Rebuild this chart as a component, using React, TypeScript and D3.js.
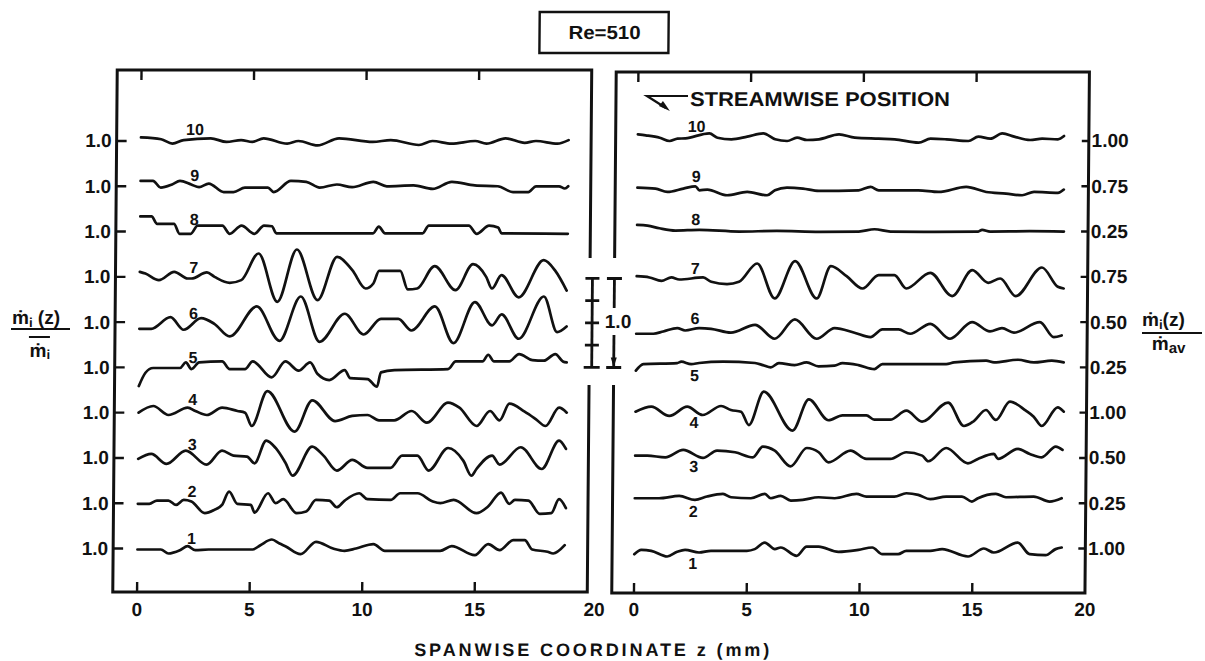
import React from 'react';
import * as d3 from 'd3';

type Pt = [number, number]; // [z (mm), mdot_i(z) / mean]

// ---- left panel: profiles normalised by the local mean ṁ_i ----
const left10: Pt[] = [[0,1.04],[0.9,1.02],[1.4,0.97],[1.9,1.01],[3.1,1.03],[3.8,0.99],[4.45,1.01],[4.95,0.99],[5.45,1.03],[6.5,0.97],[7.0,1.0],[7.85,0.95],[8.8,1.03],[10.3,0.99],[11.1,1.01],[12.35,0.955],[12.95,1.0],[13.8,0.97],[14.85,1.0],[15.35,0.97],[16.2,1.03],[17.05,0.98],[17.55,1.0],[18.5,0.97],[19.0,1.01]];
const left9: Pt[] = [[0,1.06],[0.55,1.06],[0.9,0.985],[1.4,1.02],[1.75,1.06],[2.25,1.02],[2.6,0.99],[3.03,1.03],[3.7,0.935],[4.13,0.935],[4.64,0.985],[5.66,0.985],[5.92,0.935],[6.68,1.06],[7.36,1.05],[7.96,0.985],[8.72,1.02],[9.4,0.99],[10.34,1.05],[10.94,1.0],[12.13,1.01],[12.98,0.97],[13.83,1.05],[14.85,1.01],[15.87,1.0],[16.55,0.935],[17.23,0.935],[17.57,1.0],[18.59,1.0],[18.85,0.975],[19.0,1.0]];
const left8: Pt[] = [[0,1.17],[0.5,1.17],[0.75,1.086],[1.5,1.086],[1.75,0.975],[2.25,0.975],[2.55,1.067],[3.65,1.067],[3.98,0.975],[4.5,1.067],[5.08,0.975],[5.5,1.067],[5.85,1.06],[6.05,0.98],[10.35,0.98],[10.6,1.056],[10.88,0.98],[12.55,0.98],[12.82,1.067],[14.6,1.067],[14.95,0.975],[15.5,1.067],[15.9,1.045],[16.06,0.98],[19,0.975]];
const left7: Pt[] = [[0,1.056],[0.25,1.037],[0.85,0.963],[1.53,1.056],[2.13,0.981],[2.3,0.981],[2.98,1.049],[3.32,1.0],[4.0,0.933],[4.51,0.963],[5.27,1.262],[6.12,0.719],[6.97,1.307],[7.91,0.738],[8.76,1.225],[9.44,1.075],[10.04,0.869],[10.38,0.925],[10.63,1.067],[11.57,1.067],[11.91,0.858],[12.33,0.869],[13.1,1.12],[14.03,0.85],[14.8,1.142],[15.39,1.0],[15.65,0.869],[16.07,1.019],[16.84,0.77],[17.94,1.187],[18.46,1.067],[18.97,0.846]];
const left6: Pt[] = [[0,0.925],[0.53,0.925],[1.38,1.056],[1.97,0.914],[2.74,1.045],[3.33,0.981],[4.02,0.839],[5.21,1.176],[6.23,0.79],[7.16,1.288],[8.01,0.779],[9.12,1.094],[9.97,0.861],[10.73,1.037],[11.5,1.037],[12.09,0.906],[13.12,1.176],[13.96,0.764],[14.9,1.225],[15.67,0.963],[16.09,1.086],[16.86,0.813],[17.96,1.288],[18.56,0.888],[18.98,0.951]];
const left5: Pt[] = [[0,0.79],[0.29,0.94],[0.63,0.993],[1.82,0.993],[2.08,1.056],[2.33,0.981],[2.67,1.056],[3.69,1.067],[4.03,0.981],[4.71,0.981],[5.05,1.067],[5.9,0.888],[6.5,1.067],[7.09,0.963],[7.6,1.056],[7.94,0.925],[8.46,0.858],[9.14,0.97],[9.39,0.88],[10.16,0.869],[10.58,0.783],[10.75,0.944],[11.35,0.97],[13.73,0.981],[14.07,1.067],[15.26,1.067],[15.51,1.142],[15.77,1.067],[16.45,1.067],[16.88,1.15],[17.47,1.082],[17.98,1.075],[18.49,1.15],[18.83,1.067],[19.0,1.056]];
const left4: Pt[] = [[0,1.0],[0.65,1.075],[1.33,0.974],[2.18,1.056],[2.52,1.019],[3.03,0.974],[3.71,1.056],[4.39,1.019],[4.73,1.0],[5.03,0.85],[5.71,1.243],[6.94,0.787],[7.71,1.139],[8.73,0.906],[9.49,0.963],[10.17,0.974],[10.68,0.914],[11.36,0.914],[12.13,1.019],[12.81,0.888],[13.74,1.112],[14.25,1.056],[15.02,0.85],[15.61,1.019],[16.04,0.914],[16.47,1.101],[17.15,1.011],[17.66,0.925],[18.08,0.85],[18.68,1.056],[19.02,1.0]];
const left3: Pt[] = [[0,0.989],[0.58,1.045],[1.26,0.933],[2.11,1.082],[3.04,0.925],[3.72,1.082],[4.23,1.026],[4.83,1.015],[5.17,0.94],[5.68,1.195],[6.1,1.112],[6.53,0.951],[6.87,0.801],[7.72,1.127],[8.23,1.026],[8.83,0.858],[9.51,0.978],[10.19,0.888],[11.21,0.888],[11.72,1.026],[12.4,1.026],[12.91,0.858],[13.76,1.112],[14.44,0.97],[14.81,0.801],[15.03,0.876],[15.72,1.026],[16.06,0.925],[16.99,1.12],[17.93,0.876],[18.69,1.195],[19.0,1.101]];
const left2: Pt[] = [[0,0.993],[0.51,0.993],[0.85,1.03],[1.36,1.03],[1.7,0.981],[2.04,1.037],[2.38,1.019],[2.98,0.888],[3.4,0.925],[3.74,0.981],[4.05,1.131],[4.42,0.993],[5.02,0.981],[5.19,0.895],[5.78,1.112],[6.12,1.0],[6.46,1.045],[7.06,0.888],[7.48,0.906],[7.91,1.037],[8.5,1.03],[8.84,0.955],[9.19,1.03],[9.83,1.112],[10.2,1.045],[11.23,1.037],[11.65,1.112],[12.42,1.112],[13.1,1.019],[13.44,1.0],[14.03,1.037],[15.05,0.888],[15.56,0.963],[16.13,1.12],[16.5,0.993],[16.75,1.037],[17.35,1.03],[17.86,0.88],[18.37,0.888],[18.71,1.045],[19.02,0.944]];
const left1: Pt[] = [[0,0.989],[1.04,0.989],[1.38,0.944],[1.89,0.981],[2.23,1.026],[2.57,0.981],[3.16,0.989],[5.12,0.989],[5.46,1.037],[5.97,1.101],[6.31,1.056],[6.57,1.026],[7.25,0.936],[7.93,1.075],[8.69,1.0],[9.2,0.974],[9.71,1.0],[10.48,1.049],[10.99,0.974],[13.45,0.974],[13.96,1.026],[14.99,0.925],[15.58,1.049],[16.09,0.981],[16.69,1.094],[17.2,1.094],[17.54,0.989],[18.22,0.963],[18.47,0.944],[18.98,1.037]];

// ---- right panel: profiles normalised by the overall average ṁ_av ----
const right10: Pt[] = [[0,1.075],[0.35,1.064],[0.97,1.037],[1.41,1.0],[1.76,1.026],[2.11,1.03],[3.17,1.086],[3.53,1.037],[4.15,1.019],[4.85,1.049],[5.56,1.086],[6.09,1.019],[6.62,1.0],[7.06,1.037],[7.5,1.011],[8.03,1.019],[8.92,1.075],[9.62,1.037],[10.68,1.026],[11.39,1.019],[12.45,0.981],[12.98,1.026],[13.69,1.019],[14.66,1.0],[15.1,1.049],[15.63,1.026],[16.16,1.086],[16.69,1.049],[17.4,1.011],[17.93,1.026],[18.63,1.019],[18.9,1.056]];
const right9: Pt[] = [[0,0.985],[0.8,0.974],[1.33,0.936],[2.04,0.974],[2.57,1.0],[2.75,0.955],[3.1,0.963],[3.98,0.899],[4.87,0.936],[5.75,0.899],[6.1,0.955],[6.63,0.985],[7.34,0.974],[8.05,0.948],[9.81,0.955],[10.34,0.993],[10.7,0.955],[12.46,0.955],[13.35,0.936],[14.58,0.993],[15.47,0.936],[16.35,0.918],[17.06,0.899],[17.59,0.936],[18.65,0.925],[18.91,0.963]];
const right8: Pt[] = [[0,1.075],[0.46,1.067],[0.99,1.037],[1.7,1.011],[2.76,1.019],[4.53,1.0],[6.2,1.007],[8.1,0.996],[9.83,1.0],[10.53,1.026],[11.24,1.0],[13.2,0.996],[15.13,1.0],[15.3,1.019],[15.66,1.0],[17.4,1.004],[18.93,1.0]];
const right7: Pt[] = [[0,1.007],[0.57,0.993],[1.1,0.955],[1.54,0.993],[1.89,0.97],[2.95,0.993],[3.31,0.944],[4.01,0.918],[4.54,0.944],[5.34,1.15],[6.13,0.757],[7.02,1.176],[7.99,0.757],[8.61,1.12],[9.31,1.007],[10.02,0.869],[10.73,1.019],[11.43,1.019],[11.96,0.869],[13.02,1.045],[14.0,0.783],[14.88,1.075],[15.59,0.933],[16.12,0.981],[16.82,0.783],[17.97,1.105],[18.68,0.888],[18.94,0.869]];
const right6: Pt[] = [[0,0.869],[0.76,0.869],[1.2,0.895],[1.82,0.933],[2.17,0.906],[2.79,0.933],[3.32,0.925],[4.2,0.881],[5.27,0.97],[6.15,0.813],[7.03,1.03],[8.0,0.813],[8.8,0.933],[9.68,0.881],[10.39,0.831],[10.92,0.918],[11.63,0.918],[12.15,0.869],[13.04,0.981],[13.92,0.813],[14.89,1.0],[15.69,0.895],[16.22,0.933],[16.75,0.881],[17.9,1.0],[18.52,0.831],[18.87,0.85]];
const right5: Pt[] = [[0,0.963],[0.33,1.037],[1.83,1.049],[2.01,1.064],[2.45,1.037],[2.8,1.049],[3.86,1.064],[5.28,1.049],[5.63,1.026],[5.98,1.0],[6.34,1.049],[7.04,1.026],[7.57,1.056],[8.1,1.011],[8.81,1.019],[9.16,1.049],[9.87,1.026],[10.58,0.981],[10.93,1.037],[13.76,1.037],[14.11,1.056],[15.53,1.075],[15.88,1.056],[16.94,1.086],[17.65,1.056],[18.44,1.075],[18.97,1.056]];
const right4: Pt[] = [[0,1.011],[0.7,1.067],[1.5,0.963],[2.29,1.067],[2.98,0.974],[3.79,1.075],[4.23,1.03],[4.68,1.011],[5.03,0.861],[5.68,1.236],[6.97,0.798],[7.68,1.15],[8.56,0.915],[9.18,0.97],[10.24,0.97],[10.59,0.921],[11.3,0.921],[12.01,1.022],[12.71,0.899],[13.86,1.112],[14.57,0.85],[15.01,0.906],[15.54,1.03],[15.98,0.918],[16.6,1.124],[17.31,1.022],[17.66,0.955],[18.02,0.85],[18.72,1.06],[18.99,1.011]];
const right3: Pt[] = [[0,1.026],[0.54,1.026],[1.34,1.007],[2.13,1.09],[3.01,1.0],[3.63,1.082],[4.43,1.064],[5.22,1.007],[5.66,1.127],[6.19,1.082],[6.9,0.906],[7.61,1.112],[8.14,1.064],[8.58,0.951],[9.55,1.082],[10.26,0.989],[11.32,0.989],[12.02,1.064],[12.73,1.026],[13.0,0.963],[13.79,1.112],[14.76,0.94],[15.2,0.989],[15.91,1.045],[16.09,0.989],[16.97,1.101],[17.5,1.045],[18.03,1.007],[18.65,1.127],[18.95,1.09]];
const right2: Pt[] = [[0,1.056],[1.08,1.056],[1.97,1.082],[2.67,1.037],[3.2,1.075],[3.91,1.105],[4.27,1.067],[5.15,1.056],[5.77,1.105],[6.03,1.056],[6.47,1.082],[6.92,1.03],[7.45,1.037],[8.15,1.067],[8.86,1.056],[9.83,1.105],[10.27,1.075],[11.51,1.075],[12.04,1.112],[12.57,1.094],[13.1,1.045],[13.81,1.075],[14.51,1.075],[14.95,1.019],[15.22,1.056],[16.01,1.105],[16.46,1.067],[17.69,1.075],[18.4,1.019],[18.93,1.056]];
const right1: Pt[] = [[0,0.936],[0.31,0.985],[0.75,0.974],[1.46,0.91],[1.9,0.963],[2.25,0.985],[2.87,0.955],[3.4,0.974],[4.99,0.974],[5.34,0.993],[5.78,1.067],[6.23,0.993],[6.49,1.011],[7.2,0.918],[7.64,1.022],[8.17,1.022],[9.05,0.963],[9.94,0.985],[10.55,1.011],[11.0,0.936],[11.7,0.936],[12.06,0.974],[13.12,0.974],[13.65,0.993],[14.8,0.91],[15.5,1.0],[15.94,0.955],[17.0,1.067],[17.53,0.936],[18.24,0.925],[18.68,0.993],[18.95,1.011]];

const leftTraces = [left1, left2, left3, left4, left5, left6, left7, left8, left9, left10];
const rightTraces = [right1, right2, right3, right4, right5, right6, right7, right8, right9, right10];

// streamwise position numbers, 1 (bottom) to 10 (top)
const positions = [1, 2, 3, 4, 5, 6, 7, 8, 9, 10];
const leftTickLabels = ['1.0', '1.0', '1.0', '1.0', '1.0', '1.0', '1.0', '1.0', '1.0', '1.0'];
const rightTickLabels = ['1.00', '0.25', '0.50', '1.00', '0.25', '0.50', '0.75', '0.25', '0.75', '1.00'];
// right-panel numbers sit under their curve for the lower five positions
const rightLabelBelow = [true, true, true, true, true, false, false, false, false, false];
const zTicks = [0, 5, 10, 15, 20];
const scaleBarTicks = [0, 0.25, 0.5, 0.75, 1.0];
const title = 'Re=510';

const FONT = '"Liberation Sans", Arial, sans-serif';
const INK = '#111';

function valueAt(pts: Pt[], z: number): number {
  const i = d3.bisector((d: Pt) => d[0]).left(pts, z);
  if (i <= 0) return pts[0][1];
  if (i >= pts.length) return pts[pts.length - 1][1];
  const [z0, v0] = pts[i - 1];
  const [z1, v1] = pts[i];
  return v0 + ((v1 - v0) * (z - z0)) / (z1 - z0);
}

export default function App() {
  const W = 1205;
  const H = 661;

  const row = d3.scaleLinear().domain([1, 10]).range([548.5, 141]);
  const amp = d3.scaleLinear().domain([0, 1]).range([0, 89]);
  const yOf = (n: number, v: number) => row(n) - amp(v - 1);

  const gapTop = 258;
  const gapBottom = 385;

  const panels = [
    {
      key: 'L',
      x: d3.scaleLinear().domain([0, 20]).range([139.3, 589.5]),
      outer: 115,
      top: 70,
      bottom: 592,
      traces: leftTraces,
      labelZ: 2.4,
    },
    {
      key: 'R',
      x: d3.scaleLinear().domain([0, 20]).range([636.2, 1087.2]),
      outer: 614,
      top: 72,
      bottom: 593,
      traces: rightTraces,
      labelZ: 2.6,
    },
  ];

  const barBottom = row(5);
  const barX1 = 592;
  const barX2 = 614;
  const barY = (t: number) => barBottom - amp(t);

  return (
    <svg
      width={W}
      height={H}
      viewBox={`0 0 ${W} ${H}`}
      style={{ position: 'absolute', left: 0, top: 0, background: '#fff' }}
      fontFamily={FONT}
      fontWeight="bold"
      fill={INK}
    >
      <rect x={0} y={0} width={W} height={H} fill="#fff" />
      <g transform="translate(0,331) skewX(-0.49) translate(0,-331)">
        {/* title box */}
        <rect x={537} y={12} width={129} height={41} fill="none" stroke={INK} strokeWidth={2.4} />
        <text x={602} y={33} fontSize={19} textAnchor="middle" dominantBaseline="central" textLength={72} lengthAdjust="spacingAndGlyphs">
          {title}
        </text>

        {panels.map((p) => {
          const x = p.x;
          const inner = x(20);
          const frame =
            p.key === 'L'
              ? `M${inner},${gapTop}V${p.top}H${p.outer}V${p.bottom}H${inner}V${gapBottom}`
              : `M${p.outer},${gapTop}V${p.top}H${inner}V${p.bottom}H${p.outer}V${gapBottom}`;
          return (
            <g key={p.key}>
              <path d={frame} fill="none" stroke={INK} strokeWidth={3} strokeLinejoin="miter" />
              {/* spanwise ticks, top and bottom, pointing inward */}
              {zTicks
                .filter((t) => t < 20)
                .map((t) => (
                  <g key={t}>
                    <line x1={x(t)} x2={x(t)} y1={p.bottom} y2={p.bottom - 10} stroke={INK} strokeWidth={2.4} />
                    <line x1={x(t)} x2={x(t)} y1={p.top} y2={p.top + 10} stroke={INK} strokeWidth={2.4} />
                  </g>
                ))}
              {zTicks.map((t) => (
                <text
                  key={`l${t}`}
                  x={p.key === 'L' && t === 20 ? x(t) + 7 : x(t)}
                  y={610}
                  fontSize={19}
                  textAnchor="middle"
                  dominantBaseline="central"
                >
                  {t}
                </text>
              ))}
              {/* row ticks and labels */}
              {positions.map((n, i) =>
                p.key === 'L' ? (
                  <g key={n}>
                    <line x1={p.outer} x2={p.outer + 10} y1={row(n)} y2={row(n)} stroke={INK} strokeWidth={2.4} />
                    <text x={110} y={row(n)} fontSize={19} textAnchor="end" dominantBaseline="central">
                      {leftTickLabels[i]}
                    </text>
                  </g>
                ) : (
                  <g key={n}>
                    <line x1={inner - 7} x2={inner} y1={row(n)} y2={row(n)} stroke={INK} strokeWidth={2.4} />
                    <text x={1090} y={row(n)} fontSize={19} textAnchor="start" dominantBaseline="central">
                      {rightTickLabels[i]}
                    </text>
                  </g>
                )
              )}
              {/* mass-flux profiles */}
              {p.traces.map((pts, i) => {
                const n = positions[i];
                const line = d3
                  .line<Pt>()
                  .x((d) => x(d[0]))
                  .y((d) => yOf(n, d[1]))
                  .curve(d3.curveMonotoneX);
                const below = p.key === 'R' && rightLabelBelow[i];
                const ly = yOf(n, valueAt(pts, p.labelZ)) + (below ? 12 : -10);
                return (
                  <g key={n}>
                    <path
                      d={line(pts) || ''}
                      fill="none"
                      stroke={INK}
                      strokeWidth={2.7}
                      strokeLinejoin="round"
                      strokeLinecap="round"
                    />
                    <text x={x(p.labelZ)} y={ly} fontSize={16} textAnchor="middle" dominantBaseline="central">
                      {n}
                    </text>
                  </g>
                );
              })}
            </g>
          );
        })}

        {/* scale bar between the panels */}
        <line x1={barX1} x2={barX1} y1={barY(1)} y2={barY(0)} stroke={INK} strokeWidth={2.8} />
        {scaleBarTicks.map((t) => (
          <line
            key={t}
            x1={barX1 - (t === 0 ? 8 : 7)}
            x2={barX1 + (t === 0 ? 8 : 7)}
            y1={barY(t)}
            y2={barY(t)}
            stroke={INK}
            strokeWidth={2.6}
          />
        ))}
        <line x1={barX2} x2={barX2} y1={barY(1)} y2={308} stroke={INK} strokeWidth={2.8} />
        <line x1={barX2} x2={barX2} y1={335} y2={barY(0)} stroke={INK} strokeWidth={2.8} />
        <line x1={barX2 - 7.5} x2={barX2 + 7.5} y1={barY(1)} y2={barY(1)} stroke={INK} strokeWidth={3} />
        <line x1={barX2 - 7.5} x2={barX2 + 7.5} y1={barY(0)} y2={barY(0)} stroke={INK} strokeWidth={3} />
        <path d={`M${barX2 - 3},${barY(0) - 10}L${barX2 + 3},${barY(0) - 10}L${barX2},${barY(0)}Z`} fill={INK} />
        <text x={618} y={322} fontSize={19} textAnchor="middle" dominantBaseline="central">
          1.0
        </text>

        {/* streamwise position key */}
        <path d="M686,96H645L664,108" fill="none" stroke={INK} strokeWidth={2.2} />
        <path d="M657,106L668,111L661,101Z" fill={INK} />
        <text x={688} y={99} fontSize={20} dominantBaseline="central" textLength={260} lengthAdjust="spacingAndGlyphs">
          STREAMWISE POSITION
        </text>

        {/* left axis label: ṁ_i(z) / ṁ_i (mean) */}
        <text x={12} y={324} fontSize={19}>
          ṁ<tspan fontSize={13} dy={3}>i</tspan>
          <tspan dy={-3}> (z)</tspan>
        </text>
        <line x1={11} x2={70} y1={329} y2={329} stroke={INK} strokeWidth={2} />
        <line x1={29} x2={50} y1={337} y2={337} stroke={INK} strokeWidth={2} />
        <text x={40} y={357} fontSize={19} textAnchor="middle">
          ṁ<tspan fontSize={13} dy={2}>i</tspan>
        </text>

        {/* right axis label: ṁ_i(z) / ṁ_av */}
        <text x={1142} y={326} fontSize={19}>
          ṁ<tspan fontSize={13} dy={3}>i</tspan>
          <tspan dy={-3}>(z)</tspan>
        </text>
        <line x1={1142} x2={1202} y1={333} y2={333} stroke={INK} strokeWidth={2} />
        <text x={1152} y={350} fontSize={19}>
          ṁ<tspan fontSize={15} dy={3}>av</tspan>
        </text>

        {/* spanwise axis title */}
        <text x={417} y={650} fontSize={18} dominantBaseline="central" textLength={355} lengthAdjust="spacing">
          SPANWISE  COORDINATE  z  (mm)
        </text>
      </g>
    </svg>
  );
}
